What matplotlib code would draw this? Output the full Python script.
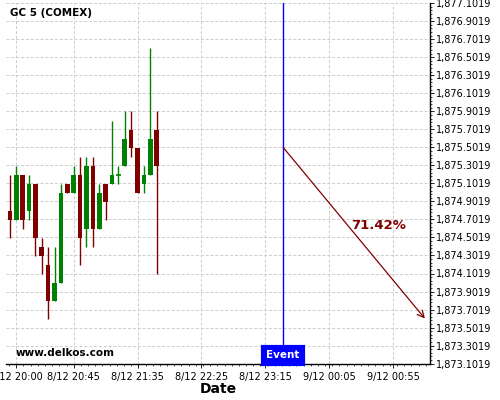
import matplotlib
matplotlib.use("Agg")
import matplotlib.pyplot as plt
import matplotlib.dates as mdates
from matplotlib.ticker import FixedLocator, AutoMinorLocator, FuncFormatter
import pandas as pd

# ---------------------------------------------------------------------------
# Data (5-minute candles, GC COMEX)
# ---------------------------------------------------------------------------
start_time = "2020-12-08 19:55"
opens = [1874.8, 1874.7, 1875.2, 1874.8, 1875.1, 1874.4, 1874.2, 1873.8,
         1874.0, 1875.1, 1875.0, 1875.2, 1874.6, 1875.3, 1874.6, 1875.1,
         1875.1, 1875.2, 1875.3, 1875.7, 1875.5, 1875.1, 1875.2, 1875.7]
highs = [1875.2, 1875.3, 1875.2, 1875.2, 1875.1, 1874.5, 1874.4, 1874.4,
         1875.1, 1875.1, 1875.3, 1875.4, 1875.4, 1875.4, 1875.1, 1875.1,
         1875.8, 1875.3, 1875.9, 1875.9, 1875.5, 1875.3, 1876.6, 1875.9]
lows = [1874.5, 1874.7, 1874.6, 1874.7, 1874.3, 1874.1, 1873.6, 1873.8,
        1874.0, 1875.0, 1875.0, 1874.2, 1874.4, 1874.4, 1874.6, 1874.7,
        1875.1, 1875.1, 1875.3, 1875.4, 1875.0, 1875.0, 1875.2, 1874.1]
closes = [1874.7, 1875.2, 1874.7, 1875.1, 1874.5, 1874.3, 1873.8, 1874.0,
          1875.0, 1875.0, 1875.2, 1874.5, 1875.3, 1874.6, 1875.0, 1874.9,
          1875.2, 1875.2, 1875.6, 1875.5, 1875.0, 1875.2, 1875.6, 1875.3]

event_time = "2020-12-08 23:29"
arrow_end_time = "2020-12-09 01:20"
arrow_start_price = 1875.5019
arrow_end_price = 1873.6019
arrow_label = "71.42%"

x_ticks = ["2020-12-08 20:00", "2020-12-08 20:45", "2020-12-08 21:35",
           "2020-12-08 22:25", "2020-12-08 23:15", "2020-12-09 00:05",
           "2020-12-09 00:55"]
y_ticks = [1873.1019 + 0.2 * i for i in range(21)]
x_range = ["2020-12-08 19:52", "2020-12-09 01:24"]

times = pd.date_range(start_time, periods=len(opens), freq="5min")

# ---------------------------------------------------------------------------
# Figure
# ---------------------------------------------------------------------------
fig = plt.figure(figsize=(5, 4), dpi=100)
ax = fig.add_axes([0.012, 0.091, 0.848, 0.901])

body_w = pd.Timedelta(minutes=3.6)
for t, o, h, l, c in zip(times, opens, highs, lows, closes):
    color = "#008000" if c >= o else "#800000"
    ax.vlines(t, l, h, color=color, linewidth=1, zorder=3)
    if abs(c - o) < 1e-9:
        ax.hlines(o, t - body_w / 2, t + body_w / 2, color=color, linewidth=1.2, zorder=3)
    else:
        ax.bar(t, abs(c - o), bottom=min(o, c), width=body_w, color=color,
               linewidth=0, zorder=4)

# event line + projection arrow
ev = pd.Timestamp(event_time)
ax.axvline(ev, color="#0000ff", linewidth=1, zorder=5)
ax.annotate("", xy=(pd.Timestamp(arrow_end_time), arrow_end_price),
            xytext=(ev, arrow_start_price),
            arrowprops=dict(arrowstyle="->", color="#800000", lw=0.9,
                            shrinkA=0, shrinkB=0, mutation_scale=12),
            zorder=6)
mid_t = ev + (pd.Timestamp(arrow_end_time) - ev) * 0.67
ax.text(mid_t, 1874.63, arrow_label, color="#800000", fontsize=9.5,
        fontweight="bold", ha="center", va="center", zorder=7)

ax.text(ev, 1873.1019 + 0.035, "Event", color="white", fontsize=7.5,
        fontweight="bold", ha="center", va="bottom", zorder=8,
        bbox=dict(boxstyle="square,pad=0.3", facecolor="#0000ff", edgecolor="#0000ff",
                  linewidth=3))

ax.text(0.01, 0.987, "GC 5 (COMEX)", transform=ax.transAxes, fontsize=7.5,
        fontweight="bold", ha="left", va="top")
ax.text(0.022, 0.03, "www.delkos.com", transform=ax.transAxes, fontsize=7.5,
        fontweight="bold", ha="left", va="center")

# axes
ax.set_xlim(pd.Timestamp(x_range[0]), pd.Timestamp(x_range[1]))
ax.set_ylim(y_ticks[0], y_ticks[-1])

ax.xaxis.set_major_locator(FixedLocator([mdates.date2num(pd.Timestamp(t)) for t in x_ticks]))
ax.xaxis.set_minor_locator(AutoMinorLocator(8))


def fmt_date(v, pos=None):
    d = mdates.num2date(v)
    return f"{d.day}/{d.month} {d:%H:%M}"


ax.xaxis.set_major_formatter(FuncFormatter(fmt_date))
ax.yaxis.set_major_locator(FixedLocator(y_ticks))
ax.yaxis.set_minor_locator(AutoMinorLocator(5))
ax.yaxis.set_major_formatter(FuncFormatter(lambda v, p: f"{v:,.4f}"))
ax.yaxis.tick_right()

ax.tick_params(axis="both", which="major", labelsize=7, length=3, width=0.6)
ax.tick_params(axis="both", which="minor", length=1.5, width=0.5)
ax.tick_params(axis="y", pad=1.5)
ax.tick_params(axis="x", pad=3)

for side in ["top", "left"]:
    ax.spines[side].set_visible(False)
ax.spines["right"].set_linewidth(1)
ax.spines["bottom"].set_linewidth(1)

ax.grid(True, which="major", color="#cccccc", linestyle=(0, (3, 2)), linewidth=0.7)
ax.set_axisbelow(True)

ax.set_xlabel("Date", fontsize=10, fontweight="bold", labelpad=0)

fig.savefig("out.png", dpi=100)
plt.close(fig)
